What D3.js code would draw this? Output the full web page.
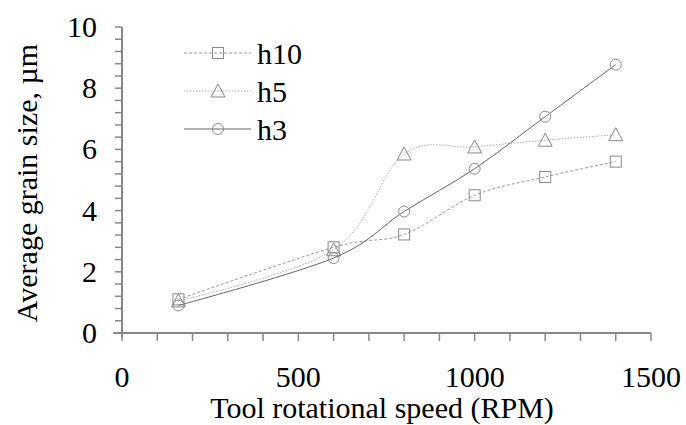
<!DOCTYPE html>
<html>
<head>
<meta charset="utf-8">
<script src="https://cdn.jsdelivr.net/npm/d3@7"></script>
<style>
  body { margin: 0; background: #fff; }
  svg text { font-family: "Liberation Serif", serif; }
</style>
</head>
<body>
<svg id="chart" width="686" height="425"></svg>
<script>
// data
var speeds = [160, 600, 800, 1000, 1200, 1400]
var h10 = [1.1, 2.8, 3.22, 4.5, 5.1, 5.6]
var h5 = [1.05, 2.72, 5.85, 6.08, 6.3, 6.48]
var h3 = [0.9, 2.45, 3.97, 5.37, 7.07, 8.77]
var xTicks = [0, 500, 1000, 1500]
var yTicks = [0, 2, 4, 6, 8, 10]

var series = [
  { name: "h10", values: h10, shape: "square", dash: "3 2", stroke: "#999", width: 1 },
  { name: "h5", values: h5, shape: "triangle", dash: "1.5 1.5", stroke: "#aaa", width: 1 },
  { name: "h3", values: h3, shape: "circle", dash: null, stroke: "#666", width: 1 }
]

var svg = d3.select("#chart")
var gray = "#888"

// 文字一律用襯線字
function label(sel) {
  return sel.attr("font-family", "Liberation Serif")
    .style("font-size", "30px")
    .attr("fill", "#000")
}

var x = d3.scaleLinear().domain([0, 1500]).range([122, 651])
var y = d3.scaleLinear().domain([0, 10]).range([333, 27])

//x軸 minor ticks every 100
var xAxis = svg.append("g")
xAxis.append("line")
  .attr("x1", 113).attr("x2", x(1500))
  .attr("y1", y(0)).attr("y2", y(0))
  .attr("stroke", gray).attr("stroke-width", 2)
xAxis.selectAll("line.tick").data(d3.range(0, 1501, 100))
  .enter().append("line")
  .attr("class", "tick")
  .attr("x1", d => x(d)).attr("x2", d => x(d))
  .attr("y1", y(0)).attr("y2", y(0) + 8)
  .attr("stroke", gray).attr("stroke-width", 1.5)
xAxis.selectAll("text").data(xTicks)
  .enter().append("text")
  .text(d => d)
  .attr("x", d => x(d))
  .attr("y", 387)
  .attr("text-anchor", "middle")
  .call(label)

//y軸 minor ticks every 0.4
var yAxis = svg.append("g")
yAxis.append("line")
  .attr("x1", x(0)).attr("x2", x(0))
  .attr("y1", y(10)).attr("y2", y(0) + 4)
  .attr("stroke", gray).attr("stroke-width", 2)
yAxis.selectAll("line.tick").data(d3.range(0, 26).map(d => d * 0.4))
  .enter().append("line")
  .attr("class", "tick")
  .attr("x1", x(0) - 7).attr("x2", x(0))
  .attr("y1", d => y(d)).attr("y2", d => y(d))
  .attr("stroke", gray).attr("stroke-width", 1.5)
yAxis.selectAll("text").data(yTicks)
  .enter().append("text")
  .text(d => d)
  .attr("x", 97)
  .attr("y", d => y(d) + 10)
  .attr("text-anchor", "end")
  .call(label)

//axis titles
svg.append("text")
  .text("Tool rotational speed (RPM)")
  .attr("x", 382).attr("y", 418)
  .attr("text-anchor", "middle")
  .call(label)
svg.append("text")
  .text("Average grain size, µm")
  .attr("transform", "translate(37,183) rotate(-90)")
  .attr("text-anchor", "middle")
  .call(label)

//markers
function drawMarker(g, shape, cx, cy, color) {
  var m
  if (shape === "square") {
    m = g.append("rect").attr("x", cx - 5.5).attr("y", cy - 5.5).attr("width", 11).attr("height", 11)
  } else if (shape === "triangle") {
    m = g.append("path").attr("d", `M${cx},${cy - 7}L${cx + 7},${cy + 6}L${cx - 7},${cy + 6}Z`)
  } else {
    m = g.append("circle").attr("cx", cx).attr("cy", cy).attr("r", 5.5)
  }
  m.attr("fill", "none").attr("stroke", color).attr("stroke-width", 1)
}

var line = d3.line()
  .x(d => x(d[0]))
  .y(d => y(d[1]))
  .curve(d3.curveCatmullRom.alpha(0))

series.forEach(s => {
  var pts = speeds.map((v, i) => [v, s.values[i]])
  var g = svg.append("g")
  g.append("path")
    .datum(pts)
    .attr("d", line)
    .attr("fill", "none")
    .attr("stroke", s.stroke)
    .attr("stroke-width", s.width)
    .attr("stroke-dasharray", s.dash)
  pts.forEach(p => drawMarker(g, s.shape, x(p[0]), y(p[1]), "#888"))
})

//圖例
var legend = svg.append("g")
series.forEach((s, i) => {
  var ly = 53 + i * 38
  legend.append("line")
    .attr("x1", 184).attr("x2", 251)
    .attr("y1", ly).attr("y2", ly)
    .attr("stroke", s.stroke)
    .attr("stroke-width", s.width)
    .attr("stroke-dasharray", s.dash)
  drawMarker(legend, s.shape, 218, ly, "#888")
  legend.append("text")
    .text(s.name)
    .attr("x", 257).attr("y", ly + 11)
    .call(label)
})
</script>
</body>
</html>
